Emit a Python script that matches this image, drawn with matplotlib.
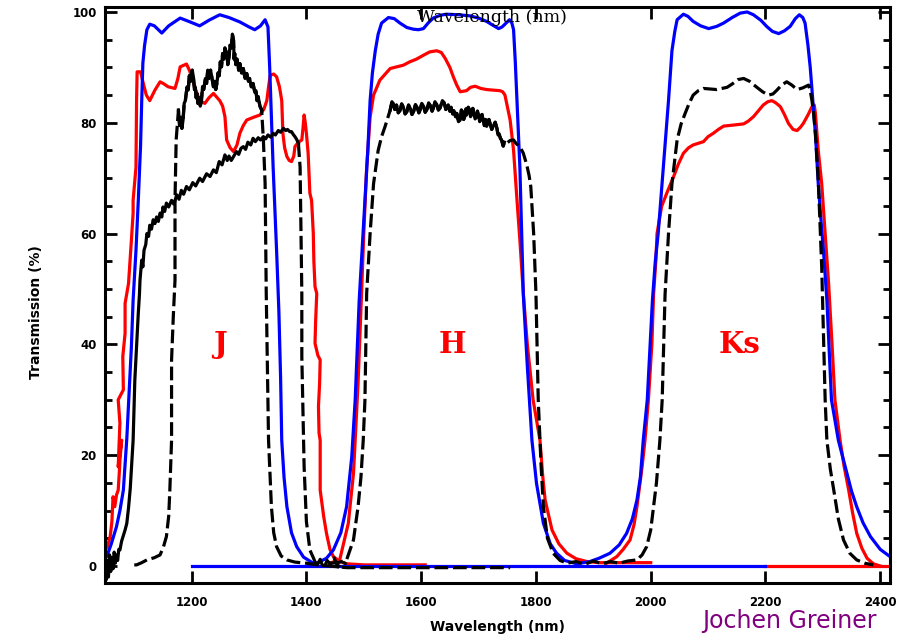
import matplotlib
matplotlib.use('Agg')
import matplotlib.pyplot as plt
from matplotlib.ticker import MultipleLocator
import numpy as np

plt.rcParams.update({
    'font.family': 'DejaVu Sans',
    'font.weight': 'bold',
    'axes.linewidth': 2.2,
})

# ── DATA (wavelength nm, transmission %) ────────────────────────────────────────

# blue filter set, J + H + Ks (one continuous trace)
blue_wl = [1050, 1052, 1060, 1069, 1075, 1081, 1087, 1092, 1095, 1098, 1103, 1107,
           1111, 1113, 1115, 1118, 1122, 1127, 1135, 1148, 1160, 1180, 1195, 1214,
           1230, 1249, 1265, 1284, 1300, 1310, 1320, 1328, 1333, 1336, 1339, 1342,
           1348, 1352, 1355, 1357, 1361, 1366, 1374, 1383, 1395, 1412, 1420, 1435,
           1447, 1460, 1470, 1479, 1485, 1492, 1497, 1502, 1507, 1511, 1515, 1520,
           1525, 1531, 1543, 1553, 1563, 1575, 1586, 1595, 1604, 1612, 1621, 1633,
           1644, 1665, 1685, 1700, 1714, 1725, 1735, 1741, 1746, 1754, 1758, 1761,
           1764, 1767, 1772, 1778, 1785, 1793, 1801, 1813, 1825, 1836, 1850, 1871,
           1894, 1910, 1929, 1945, 1958, 1968, 1976, 1982, 1987, 1994, 2003, 2008,
           2013, 2022, 2031, 2037, 2042, 2046, 2057, 2065, 2074, 2087, 2101, 2115,
           2127, 2142, 2156, 2168, 2179, 2192, 2202, 2212, 2223, 2233, 2243, 2252,
           2259, 2265, 2269, 2274, 2278, 2287, 2292, 2297, 2301, 2307, 2315, 2327,
           2335, 2342, 2350, 2359, 2370, 2383, 2400, 2417]
blue_t = [1.5, 1.7, 4, 7.1, 10, 13.7, 23, 33.6, 39.6, 48, 57, 66,
          76, 84, 90.8, 94, 96.8, 97.8, 97.5, 96.2, 97.5, 98.9, 98.3, 97.5,
          98.5, 99.5, 99, 98.2, 97.3, 96.8, 97.5, 98.6, 97.3, 90, 81, 72,
          57, 46, 34, 22.7, 16, 10.7, 6, 3.5, 1.6, 0.5, 0.6, 1.4,
          2.9, 6, 10.7, 19.7, 30, 48, 57, 66, 75, 84, 89, 93,
          96, 98, 99, 98.8, 98, 97.2, 96.9, 96.8, 97, 98, 98.9, 99.4,
          99.6, 99.5, 99.3, 98.9, 98.3, 97.6, 97, 97.3, 97.8, 98.6, 98, 96.8,
          91, 84, 72, 49, 36, 22.7, 14.9, 7.7, 4, 2.3, 1, 0.4,
          0.8, 1.4, 2.3, 3.8, 5.9, 8.5, 11.9, 16, 22.7, 30, 48, 55,
          60, 72, 84, 93, 96.5, 98.6, 99.6, 99.2, 98.3, 97.5, 97, 97.4,
          98, 99, 99.8, 100, 99.5, 98.5, 97.4, 96.5, 96.1, 96.6, 97.4, 98.8,
          99.5, 99, 98, 94, 90, 78, 69, 62, 57, 48, 30, 22.7,
          19.5, 16.7, 13.5, 10.7, 7.8, 5.3, 3, 1.7]
blue_base_wl = [1200, 2200]
blue_base_t = [0, 0]

# red filter set
red_j_wl = [1049, 1053, 1058, 1061, 1063, 1066, 1069, 1072, 1074, 1075, 1078, 1072,
            1075, 1072, 1081, 1080, 1084, 1084, 1090, 1095, 1098, 1098, 1103, 1104,
            1105, 1111, 1116, 1121, 1127, 1136, 1145, 1152, 1159, 1171, 1176, 1180,
            1191, 1196, 1200, 1207, 1214, 1223, 1230, 1238, 1249, 1254, 1258, 1261,
            1267, 1273, 1279, 1284, 1290, 1296, 1308, 1319, 1326, 1331, 1334, 1337,
            1343, 1348, 1353, 1357, 1359, 1362, 1366, 1370, 1374, 1378, 1380, 1386,
            1392, 1394, 1396, 1398, 1400, 1403, 1406, 1409, 1412, 1413, 1415, 1418,
            1416, 1415, 1420, 1424, 1423, 1421, 1422, 1424, 1424, 1430, 1435, 1441,
            1447, 1458, 1470, 1500, 1607]
red_j_t = [2.9, 3.5, 5.3, 8, 12.5, 10.7, 12.8, 13.7, 17, 19.1, 22.7, 17.9,
           25.8, 30, 31.8, 37.8, 42, 47.4, 51, 58.8, 63.7, 66, 72, 84,
           89.2, 89.2, 87, 85, 84, 85.9, 87.4, 87, 86.5, 86.2, 88, 90.1,
           90.6, 89.5, 88.3, 86, 84, 83.5, 84.5, 85.3, 84, 83, 81.1, 76.9,
           75.5, 74.8, 76, 78.1, 79.5, 80.5, 81, 81.4, 82.5, 84, 86.5, 88.6,
           88.8, 88.3, 86.5, 84, 78.1, 75.5, 73.9, 73.2, 73, 74, 75.7, 76.5,
           76.9, 79, 81.4, 80, 78.1, 74.5, 67.3, 66, 60, 55, 50.4, 49.2,
           44, 40.2, 38, 37.2, 33, 28.8, 24, 22.7, 13.7, 9, 5.9, 3,
           1.7, 0.8, 0.4, 0.2, 0.2]

red_h_wl = [1440, 1458, 1473, 1482, 1485, 1490, 1496, 1500, 1505, 1511, 1517, 1528,
            1546, 1569, 1580, 1592, 1604, 1615, 1627, 1635, 1642, 1650, 1656, 1662,
            1668, 1679, 1686, 1694, 1704, 1714, 1725, 1737, 1742, 1746, 1750, 1755,
            1761, 1767, 1772, 1778, 1785, 1795, 1807, 1812, 1816, 1828, 1840, 1854,
            1870, 1889, 1910, 1950, 2000]
red_h_t = [0.5, 1.1, 7.7, 16.7, 22.7, 33, 49, 60, 72, 81, 85, 87.7,
           89.8, 90.4, 91, 91.5, 92.2, 92.8, 93, 92.7, 91.6, 90, 88.3, 86.8,
           85.6, 85.8, 86.4, 86.6, 86.2, 86, 85.9, 85.8, 85.6, 85, 83, 80.5,
           75, 66, 58.8, 49.2, 40, 30, 22.7, 16, 11.9, 6.5, 4, 2.3,
           1.3, 0.8, 0.6, 0.6, 0.6]

red_k_wl = [1923, 1941, 1952, 1964, 1971, 1976, 1985, 1990, 1996, 2002, 2005, 2009,
            2011, 2019, 2028, 2040, 2048, 2057, 2066, 2074, 2092, 2100, 2109, 2118,
            2127, 2145, 2162, 2170, 2179, 2188, 2196, 2204, 2211, 2218, 2226, 2233,
            2240, 2248, 2255, 2261, 2266, 2274, 2281, 2285, 2287, 2292, 2298, 2304,
            2310, 2316, 2321, 2330, 2337, 2345, 2352, 2359, 2368, 2377, 2388, 2400]
red_k_t = [0.5, 1.7, 3, 4.7, 7.5, 10.7, 17.9, 22.7, 30, 40, 49, 55.2,
           60, 64.9, 67.3, 70.3, 72.5, 74.5, 75.5, 76, 76.6, 77.5, 78.1, 78.8,
           79.4, 79.6, 79.8, 80.3, 81.1, 82.2, 83.2, 83.8, 84, 83.6, 82.9, 81.5,
           79.9, 78.8, 78.6, 79.2, 79.9, 81.4, 82.9, 83.2, 81.7, 75, 69, 60,
           51, 40, 30, 22.7, 18, 13.7, 9.5, 5.9, 3.2, 1.4, 0.4, 0]
red_base_wl = [2200, 2417]
red_base_t = [0, 0]

# black dashed, narrow J (noisy top)
blk_j_wl = [1100, 1104, 1113, 1122, 1135, 1145, 1151, 1156, 1160, 1162, 1165, 1165,
            1168, 1171, 1171, 1173, 1177, 1179, 1181, 1183, 1185, 1187, 1189, 1192,
            1194, 1196, 1198, 1201, 1203, 1205, 1206, 1208, 1209, 1211, 1213, 1215,
            1217, 1219, 1221, 1224, 1226, 1228, 1230, 1233, 1235, 1238, 1240, 1242,
            1244, 1246, 1248, 1250, 1252, 1254, 1256, 1258, 1261, 1263, 1265, 1267,
            1269, 1271, 1273, 1274, 1275, 1277, 1279, 1282, 1284, 1287, 1290, 1293,
            1296, 1299, 1301, 1304, 1307, 1310, 1312, 1314, 1316, 1319, 1322, 1325,
            1328, 1330, 1334, 1339, 1343, 1348, 1356, 1366, 1380, 1400, 1420, 1470,
            1755]
blk_j_t = [0.2, 0.2, 0.6, 1.1, 1.5, 2, 3.5, 5.3, 9, 13.7, 22.7, 37.2,
           45, 51.6, 66, 76.9, 82.3, 79.5, 81, 79, 80.5, 83.5, 84, 86.5,
           85.9, 88.5, 87.5, 89.5, 88.3, 86, 86.5, 84.5, 85.3, 83.5, 84.5, 83,
           84, 86.5, 86, 88, 87.1, 89.5, 88, 89.5, 88.3, 86.5, 87.5, 86,
           87.1, 89, 88.5, 91, 90.1, 92.5, 91.5, 93.5, 92.5, 90.5, 91.8, 94,
           93.5, 96, 94.9, 91.5, 92.5, 90.5, 91.5, 89.5, 90.7, 89, 89.8, 88,
           88.9, 87.5, 88, 86.5, 87.1, 85.5, 85.8, 84, 84.7, 83, 82.3, 76.9,
           69.1, 49.2, 22.7, 10.7, 6, 3.5, 1.8, 1.1, 0.7, 0.5, 0.2, -0.3,
           -0.3]

# black, slowly rising J trace (solid) with dashed cut-off
blk_g_wl = [1050, 1051, 1053, 1055, 1057, 1059, 1061, 1063, 1065, 1067, 1069, 1071,
            1073, 1075, 1078, 1081, 1084, 1087, 1090, 1093, 1095, 1098, 1101, 1104,
            1107, 1109, 1110, 1113, 1115, 1117, 1120, 1122, 1125, 1127, 1130, 1133,
            1136, 1139, 1142, 1145, 1148, 1150, 1153, 1156, 1160, 1165, 1169, 1174,
            1178, 1182, 1186, 1191, 1196, 1202, 1207, 1214, 1219, 1226, 1232, 1238,
            1243, 1248, 1253, 1258, 1262, 1265, 1269, 1273, 1278, 1282, 1286, 1290,
            1294, 1298, 1303, 1307, 1311, 1316, 1320, 1325, 1329, 1333, 1338, 1342,
            1346, 1351, 1355, 1360, 1364, 1367, 1371, 1374, 1377, 1380, 1383, 1386]
blk_g_t = [0, -2.5, 1, -2, 2, -1, 1.5, -0.5, 2.5, 0.5, 2, 1,
           3, 2.9, 4.5, 5.5, 6.5, 7.7, 10.5, 14, 17.5, 22.7, 33.6, 39.6,
           45.6, 49, 51.6, 55.2, 54, 57, 58, 60, 59.5, 61.5, 60.8, 62.5,
           61.8, 63, 62.2, 63.7, 63, 64.8, 64, 65.5, 64.8, 66, 65.3, 67,
           66.2, 67.8, 67.1, 68.5, 67.9, 69.2, 68.6, 70, 69.4, 70.8, 70.3, 71.5,
           71, 73, 72.4, 74.2, 73.2, 74, 73.2, 73.9, 74.8, 74.3, 75.4, 75.7,
           75.2, 76.5, 76, 77.2, 76.6, 77.3, 76.9, 77.5, 77.1, 77.8, 77.4, 78.1,
           77.8, 78.6, 78.3, 79, 78.6, 78.8, 78.4, 78.4, 77.9, 77.5, 77, 76.3]
blk_gd_wl = [1386, 1389, 1392, 1392, 1396, 1400, 1406, 1412, 1418, 1424, 1430, 1436,
             1442, 1448, 1455, 1462, 1470]
blk_gd_t = [76.3, 72, 49.2, 37.8, 17.9, 8, 2.9, 1.5, 0, 1.2, -0.5, 1,
            0.3, 1.5, -0.2, 0.8, 0.3]

# black dashed, H + Ks (noisy H top)
blk_hk_wl = [1440, 1455, 1470, 1482, 1490, 1495, 1499, 1502, 1505, 1511, 1517, 1525,
             1531, 1537, 1546, 1549, 1551, 1554, 1557, 1560, 1563, 1566, 1569, 1572,
             1575, 1578, 1581, 1584, 1587, 1590, 1593, 1596, 1598, 1601, 1604, 1607,
             1610, 1613, 1616, 1619, 1621, 1624, 1627, 1630, 1633, 1637, 1640, 1643,
             1647, 1650, 1652, 1655, 1657, 1660, 1662, 1665, 1668, 1670, 1672, 1674,
             1676, 1678, 1679, 1682, 1684, 1686, 1688, 1690, 1691, 1694, 1696, 1698,
             1700, 1702, 1703, 1706, 1708, 1710, 1712, 1714, 1716, 1718, 1720, 1723,
             1726, 1729, 1732, 1734, 1736, 1738, 1740, 1743, 1745, 1749, 1755, 1761,
             1766, 1772, 1778, 1784, 1788, 1791, 1796, 1800, 1804, 1809, 1813, 1820,
             1830, 1842, 1854, 1870, 1885, 1900, 1915, 1930, 1945, 1960, 1976, 1985,
             1993, 2000, 2005, 2010, 2016, 2020, 2025, 2031, 2037, 2046, 2053, 2060,
             2067, 2074, 2083, 2092, 2103, 2115, 2124, 2133, 2142, 2152, 2162, 2172,
             2185, 2195, 2205, 2213, 2220, 2228, 2237, 2246, 2255, 2265, 2275, 2278,
             2281, 2284, 2287, 2292, 2298, 2304, 2307, 2313, 2319, 2327, 2336, 2347,
             2359, 2373, 2388]
blk_hk_t = [0.5, 0.6, 1.1, 4.7, 10.7, 16, 22.7, 30, 49.2, 60, 69, 75,
            77.5, 79.3, 82.3, 83.8, 83.5, 82.4, 83.2, 81.8, 82.2, 83.4, 82.8, 81.6,
            82, 83.2, 82.6, 81.5, 82.1, 83.3, 82.8, 81.8, 82.3, 83.5, 83, 81.9,
            82.4, 83.6, 83.1, 82.1, 82.6, 83.8, 83.3, 82.3, 82.7, 84, 83.6, 82.4,
            83.2, 82.1, 82.8, 81.6, 82.2, 81.1, 81.7, 80.2, 80.5, 82.3, 82, 80.6,
            81.2, 82.5, 81.4, 82.8, 82.4, 81.1, 81.5, 82.6, 82, 80.7, 81, 82.1,
            81.3, 80.2, 80.8, 81.5, 80.4, 79.5, 80.6, 79.4, 79.8, 80.6, 79.9, 78.8,
            79.5, 80.1, 79, 77.8, 78, 77.2, 76.9, 75.8, 76.5, 76.3, 76.8, 76.9,
            76.2, 75.7, 74.5, 72.4, 70.5, 68.5, 60, 49.2, 30, 18, 10.7, 5,
            2.3, 1, 0.5, 0.8, 0.3, 0.9, 0.4, 0.8, 0.5, 0.9, 1.1, 2,
            3.5, 6.5, 10.7, 15, 22.7, 30, 49, 60, 69, 76.9, 79.8, 81.7,
            83.5, 85, 85.8, 86.2, 86.1, 86, 86.2, 86.4, 87, 87.8, 88, 87.5,
            86.4, 85.6, 85, 85.2, 85.9, 86.8, 87.4, 86.8, 86, 86.3, 86.8, 85.8,
            84, 81.5, 78.1, 69.7, 54, 30, 22.7, 17.5, 13.7, 8.5, 4.7, 2.3,
            1.1, 0.5, 0.2]

band_names = ['J', 'H', 'Ks']
band_wl = [1249, 1654, 2154]

# ── PLOT ─────────────────────────────────────────────────────────────────────────

fig = plt.figure(figsize=(8.97, 6.4), dpi=100)
ax = fig.add_axes([105 / 897, 57 / 640, 785 / 897, 576 / 640])

LW = 2.3
DASH = (4.3, 1.5)

# red traces
ax.plot(red_j_wl, red_j_t, color='#ff0000', lw=LW)
ax.plot(red_h_wl, red_h_t, color='#ff0000', lw=LW)
ax.plot(red_k_wl, red_k_t, color='#ff0000', lw=LW)
ax.plot(red_base_wl, red_base_t, color='#ff0000', lw=LW)

# blue traces
ax.plot(blue_base_wl, blue_base_t, color='#0000ff', lw=LW)
ax.plot(blue_wl, blue_t, color='#0000ff', lw=LW)

# black traces
ax.plot(blk_g_wl, blk_g_t, color='black', lw=LW)
ax.plot(blk_gd_wl, blk_gd_t, color='black', lw=LW, dashes=DASH)


def dashed_with_solid_top(wl, t, lo, hi):
    wl = np.asarray(wl)
    t = np.asarray(t)
    ax.plot(wl, t, color='black', lw=LW, dashes=DASH)
    m = (wl >= lo) & (wl <= hi)
    ax.plot(wl[m], t[m], color='black', lw=LW)


dashed_with_solid_top(blk_j_wl, blk_j_t, 1177, 1322)
dashed_with_solid_top(blk_hk_wl, blk_hk_t, 1546, 1745)

for name, wl in zip(band_names, band_wl):
    ax.text(wl, 40, name, color='#ff0000', fontsize=21, fontweight='bold',
            family='DejaVu Serif', ha='center', va='center')

ax.set_xlim(1049, 2417)
ax.set_ylim(-3.07, 100.9)

ax.xaxis.set_major_locator(MultipleLocator(200))
ax.yaxis.set_major_locator(MultipleLocator(20))
ax.yaxis.set_minor_locator(MultipleLocator(5))
ax.tick_params(which='both', direction='in', top=True, right=True, width=2.0)
ax.tick_params(which='major', length=8.5, labelsize=8.5)
ax.tick_params(which='minor', length=5)
ax.tick_params(axis='x', pad=9)
ax.tick_params(axis='y', pad=6)
for lab in ax.get_xticklabels() + ax.get_yticklabels():
    lab.set_fontweight('bold')

ax.set_xlabel('Wavelength (nm)', fontsize=10, fontweight='bold', labelpad=8)
ax.set_ylabel('Transmission (%)', fontsize=10, fontweight='bold')
ax.yaxis.set_label_coords(-0.079, 0.47)

fig.text(492 / 897, 1 - 17 / 640, 'Wavelength (nm)', family='DejaVu Serif',
         fontweight='normal', fontsize=12.5, ha='center', va='center')
fig.text(789 / 897, 1 - 621 / 640, 'Jochen Greiner', color='#800080',
         fontweight='normal', fontsize=17, ha='center', va='center')

fig.savefig('out.png', dpi=100, facecolor='white')
